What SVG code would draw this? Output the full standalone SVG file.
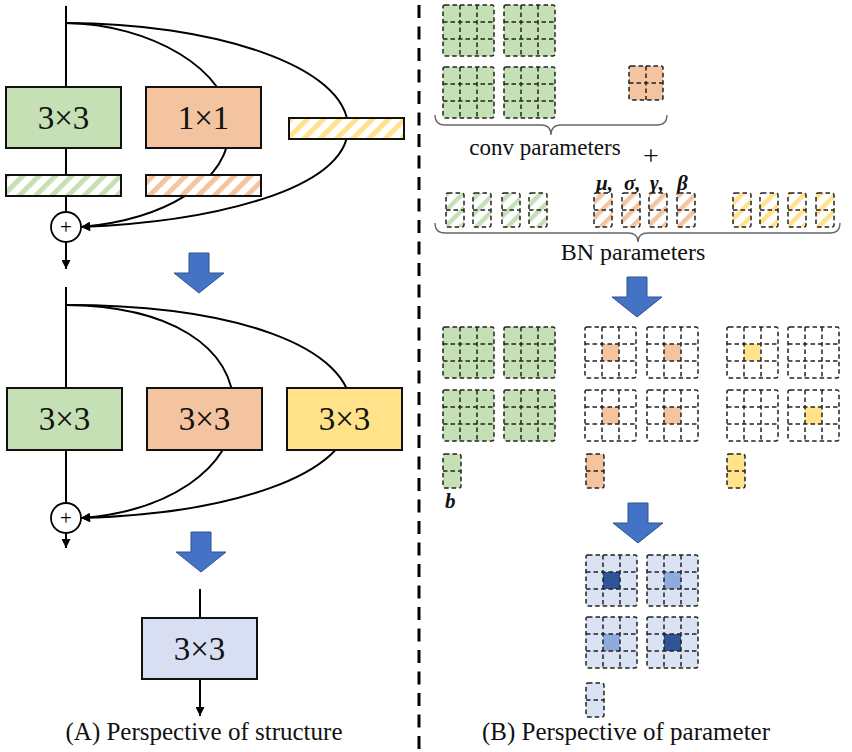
<svg xmlns="http://www.w3.org/2000/svg" xmlns:xlink="http://www.w3.org/1999/xlink" width="852" height="752" viewBox="0 0 852 752">
<style>
.ln{fill:none;stroke:#000;stroke-width:2}
.box{stroke:#111;stroke-width:2}
.bt{font-family:"Liberation Serif","Times New Roman",serif;font-size:33px;text-anchor:middle;fill:#111}
.lab{font-family:"Liberation Serif","Times New Roman",serif;font-size:23px;text-anchor:middle;fill:#111}
.cap{font-family:"Liberation Serif","Times New Roman",serif;font-size:25px;text-anchor:middle;fill:#111}
.gr{font-family:"Liberation Serif","Times New Roman",serif;font-size:21px;font-weight:bold;font-style:italic;fill:#111}
.dl{fill:none;stroke:#222;stroke-width:1.5;stroke-dasharray:4.5 3}
.brace{fill:none;stroke:#666;stroke-width:1.3}
.big{fill:#4472c4;stroke:#2f528f;stroke-width:1}
.g{fill:#c5e0b4}.o{fill:#f4c3a0}.y{fill:#ffe28a}.b{fill:#dae3f3}.bd{fill:#2f5597}.bl{fill:#8faadc}
</style>
<defs>
<pattern id="hg" width="11" height="11" patternUnits="userSpaceOnUse" patternTransform="rotate(45)"><rect width="11" height="11" fill="#fff"/><rect width="4.5" height="11" fill="#c5e0b4"/></pattern>
<pattern id="ho" width="11" height="11" patternUnits="userSpaceOnUse" patternTransform="rotate(45)"><rect width="11" height="11" fill="#fff"/><rect width="4.5" height="11" fill="#f4c3a0"/></pattern>
<pattern id="hy" width="11" height="11" patternUnits="userSpaceOnUse" patternTransform="rotate(45)"><rect width="11" height="11" fill="#fff"/><rect width="4.5" height="11" fill="#ffe28a"/></pattern>
<pattern id="sg" width="11.5" height="11.5" patternUnits="userSpaceOnUse" patternTransform="rotate(45)"><rect width="11.5" height="11.5" fill="#fff"/><rect width="5" height="11.5" fill="#c5e0b4"/></pattern>
<pattern id="so" width="11.5" height="11.5" patternUnits="userSpaceOnUse" patternTransform="rotate(45)"><rect width="11.5" height="11.5" fill="#fff"/><rect width="5" height="11.5" fill="#f4c3a0"/></pattern>
<pattern id="sy" width="11.5" height="11.5" patternUnits="userSpaceOnUse" patternTransform="rotate(45)"><rect width="11.5" height="11.5" fill="#fff"/><rect width="5" height="11.5" fill="#ffe28a"/></pattern>
<marker id="ah" viewBox="0 0 10 10" refX="10" refY="5" markerWidth="10" markerHeight="9" orient="auto" markerUnits="userSpaceOnUse"><path d="M0,0 L10,5 L0,10 z" fill="#000"/></marker>
<g id="g3"><rect x="0" y="0" width="51" height="51" rx="2" class="dl"/><path class="dl" d="M17,0V51M34,0V51M0,17H51M0,34H51"/></g>
<g id="g2"><rect x="0" y="0" width="34" height="34" rx="2" class="dl"/><path class="dl" d="M17,0V34M0,17H34"/></g>
<g id="g12"><rect x="0" y="0" width="18" height="34" rx="2" class="dl"/><path class="dl" d="M0,17H18"/></g>
<path id="barrow" d="M-10,0 H10 V20 H25 L0,40 L-25,20 H-10 Z"/>
</defs>

<!-- divider -->
<line x1="419" y1="5" x2="419" y2="752" stroke="#000" stroke-width="3" stroke-dasharray="13 8.5"/>

<!-- Panel A connectors -->
<g id="connectors">
<line class="ln" x1="66" y1="6" x2="66" y2="87"/>
<line class="ln" x1="66" y1="148" x2="66" y2="175"/>
<line class="ln" x1="66" y1="196" x2="66" y2="212"/>
<path class="ln" d="M66,23 C150,24 230,70 230,125 C230,185 160,220 81,227" marker-end="url(#ah)"/>
<path class="ln" d="M66,23 C210,23 348,65 348,128 C348,190 210,222 81,227" marker-end="url(#ah)"/>
<line class="ln" x1="66" y1="242" x2="66" y2="269" marker-end="url(#ah)"/>

<line class="ln" x1="66" y1="287" x2="66" y2="388"/>
<line class="ln" x1="66" y1="450" x2="66" y2="503"/>
<path class="ln" d="M66,305 C168,306 234,345 234,410 C234,470 165,512 81,518" marker-end="url(#ah)"/>
<path class="ln" d="M66,305 C232,305 352,345 352,412 C352,477 225,514 81,518" marker-end="url(#ah)"/>
<line class="ln" x1="66" y1="533" x2="66" y2="548" marker-end="url(#ah)"/>

<line class="ln" x1="200" y1="589" x2="200" y2="618"/>
<line class="ln" x1="200" y1="679" x2="200" y2="716" marker-end="url(#ah)"/>
</g>

<!-- Panel A nodes -->
<g id="a-conv3">
<rect class="box g" x="6" y="87" width="115" height="61"/>
<text class="bt" x="63.5" y="129">3×3</text>
</g>
<g id="a-conv1">
<rect class="box o" x="146" y="87" width="115" height="61"/>
<text class="bt" x="203.5" y="129">1×1</text>
</g>
<g id="a-bn-id">
<rect class="box" fill="url(#sy)" x="289" y="118" width="115" height="21"/>
</g>
<g id="a-bn3">
<rect class="box" fill="url(#sg)" x="6" y="175" width="115" height="21"/>
</g>
<g id="a-bn1">
<rect class="box" fill="url(#so)" x="146" y="175" width="115" height="21"/>
</g>
<g id="a-add1">
<circle cx="66" cy="227" r="15" fill="#fff" stroke="#000" stroke-width="1.8"/>
<text x="66" y="234" font-family="Liberation Serif, serif" font-size="21" text-anchor="middle">+</text>
</g>

<g id="arrowA1"><use href="#barrow" x="199" y="253" class="big"/></g>

<g id="b-conv3a">
<rect class="box g" x="7" y="388" width="115" height="62"/>
<text class="bt" x="64.5" y="430">3×3</text>
</g>
<g id="b-conv3b">
<rect class="box o" x="147" y="388" width="115" height="62"/>
<text class="bt" x="204.5" y="430">3×3</text>
</g>
<g id="b-conv3c">
<rect class="box y" x="287" y="388" width="115" height="62"/>
<text class="bt" x="344.5" y="430">3×3</text>
</g>
<g id="b-add">
<circle cx="66" cy="518" r="15" fill="#fff" stroke="#000" stroke-width="1.8"/>
<text x="66" y="525" font-family="Liberation Serif, serif" font-size="21" text-anchor="middle">+</text>
</g>

<g id="arrowA2"><use href="#barrow" x="201" y="532" class="big"/></g>

<g id="c-conv">
<rect class="box" fill="#d9dff2" x="142" y="618" width="115" height="61"/>
<text class="bt" x="199.5" y="660">3×3</text>
</g>

<text class="cap" x="204" y="740">(A) Perspective of structure</text>

<!-- Panel B -->
<g id="conv-params">
<rect class="g" x="443" y="5" width="51" height="51" rx="2"/><use href="#g3" x="443" y="5"/>
<rect class="g" x="504" y="5" width="51" height="51" rx="2"/><use href="#g3" x="504" y="5"/>
<rect class="g" x="443" y="67" width="51" height="51" rx="2"/><use href="#g3" x="443" y="67"/>
<rect class="g" x="504" y="67" width="51" height="51" rx="2"/><use href="#g3" x="504" y="67"/>
<rect class="o" x="629" y="66" width="34" height="34" rx="2"/><use href="#g2" x="629" y="66"/>
<path class="brace" d="M435,115 Q435,125 445,125 L541,125 Q551,125 551,135 Q551,125 561,125 L657,125 Q667,125 667,115"/>
<text class="lab" x="545" y="155">conv parameters</text>
<text x="651" y="165" font-family="Liberation Serif, serif" font-size="28" text-anchor="middle" fill="#111">+</text>
</g>

<g id="bn-params">
<text class="gr" x="596" y="190">μ,</text>
<text class="gr" x="624" y="190">σ,</text>
<text class="gr" x="650" y="190">γ,</text>
<text class="gr" x="677" y="190">β</text>
<rect fill="url(#hg)" x="446" y="193" width="18" height="34"/><use href="#g12" x="446" y="193"/>
<rect fill="url(#hg)" x="473" y="193" width="18" height="34"/><use href="#g12" x="473" y="193"/>
<rect fill="url(#hg)" x="502" y="193" width="18" height="34"/><use href="#g12" x="502" y="193"/>
<rect fill="url(#hg)" x="529" y="193" width="18" height="34"/><use href="#g12" x="529" y="193"/>
<rect fill="url(#ho)" x="594" y="193" width="18" height="34"/><use href="#g12" x="594" y="193"/>
<rect fill="url(#ho)" x="622" y="193" width="18" height="34"/><use href="#g12" x="622" y="193"/>
<rect fill="url(#ho)" x="649" y="193" width="18" height="34"/><use href="#g12" x="649" y="193"/>
<rect fill="url(#ho)" x="677" y="193" width="18" height="34"/><use href="#g12" x="677" y="193"/>
<rect fill="url(#hy)" x="733" y="193" width="18" height="34"/><use href="#g12" x="733" y="193"/>
<rect fill="url(#hy)" x="760" y="193" width="18" height="34"/><use href="#g12" x="760" y="193"/>
<rect fill="url(#hy)" x="788" y="193" width="18" height="34"/><use href="#g12" x="788" y="193"/>
<rect fill="url(#hy)" x="816" y="193" width="18" height="34"/><use href="#g12" x="816" y="193"/>
<path class="brace" d="M435,223 Q435,233 445,233 L628,233 Q638,233 638,242 Q638,233 648,233 L830,233 Q840,233 840,223"/>
<text class="lab" x="633" y="260" style="font-size:24px">BN parameters</text>
</g>

<g id="arrowB1"><use href="#barrow" x="637" y="277" class="big"/></g>

<g id="fused-green">
<rect class="g" x="443" y="327" width="51" height="51" rx="2"/><use href="#g3" x="443" y="327"/>
<rect class="g" x="504" y="327" width="51" height="51" rx="2"/><use href="#g3" x="504" y="327"/>
<rect class="g" x="443" y="390" width="51" height="51" rx="2"/><use href="#g3" x="443" y="390"/>
<rect class="g" x="504" y="390" width="51" height="51" rx="2"/><use href="#g3" x="504" y="390"/>
<rect class="g" x="443" y="454" width="18" height="34" rx="2"/><use href="#g12" x="443" y="454"/>
<text class="gr" x="445" y="508">b</text>
</g>
<g id="fused-orange">
<rect class="o" x="602" y="344" width="17" height="17"/><use href="#g3" x="585" y="327"/>
<rect class="o" x="664" y="344" width="17" height="17"/><use href="#g3" x="647" y="327"/>
<rect class="o" x="602" y="407" width="17" height="17"/><use href="#g3" x="585" y="390"/>
<rect class="o" x="664" y="407" width="17" height="17"/><use href="#g3" x="647" y="390"/>
<rect class="o" x="586" y="454" width="18" height="34" rx="2"/><use href="#g12" x="586" y="454"/>
</g>
<g id="fused-yellow">
<rect class="y" x="744" y="344" width="17" height="17"/><use href="#g3" x="727" y="327"/>
<use href="#g3" x="788" y="327"/>
<use href="#g3" x="727" y="390"/>
<rect class="y" x="805" y="407" width="17" height="17"/><use href="#g3" x="788" y="390"/>
<rect class="y" x="727" y="454" width="18" height="34" rx="2"/><use href="#g12" x="727" y="454"/>
</g>

<g id="arrowB2"><use href="#barrow" x="638" y="503" class="big"/></g>

<g id="final-params">
<rect class="b" x="586" y="555" width="51" height="51" rx="2"/><rect class="bd" x="603" y="572" width="17" height="17"/><use href="#g3" x="586" y="555"/>
<rect class="b" x="647" y="555" width="51" height="51" rx="2"/><rect class="bl" x="664" y="572" width="17" height="17"/><use href="#g3" x="647" y="555"/>
<rect class="b" x="586" y="617" width="51" height="51" rx="2"/><rect class="bl" x="603" y="634" width="17" height="17"/><use href="#g3" x="586" y="617"/>
<rect class="b" x="647" y="617" width="51" height="51" rx="2"/><rect class="bd" x="664" y="634" width="17" height="17"/><use href="#g3" x="647" y="617"/>
<rect class="b" x="586" y="683" width="18" height="34" rx="2"/><use href="#g12" x="586" y="683"/>
</g>

<text class="cap" x="626" y="740">(B) Perspective of parameter</text>
</svg>
